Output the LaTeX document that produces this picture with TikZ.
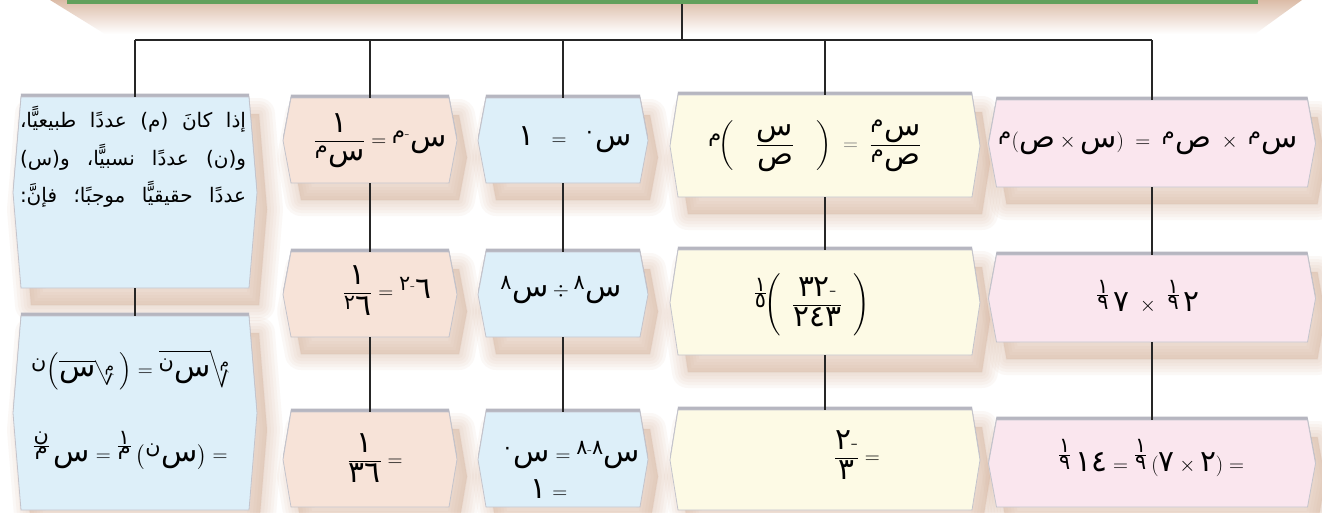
\documentclass[tikz,border=0pt]{standalone}
\usepackage{amsmath}
\usepackage{graphicx}
\usepackage{fontspec}
\TeXXeTstate=1
\newfontfamily\arfont[Script=Arabic,Scale=1.35]{DejaVu Sans}
\newfontfamily\arpara[Script=Arabic]{DejaVu Sans}
\newcommand\Ar[1]{\text{\arfont #1}}
\newcommand\efrac[2]{\frac{\scriptstyle #1}{\scriptstyle #2}}
\newcommand\rsqrt[2]{\reflectbox{$\displaystyle\sqrt[\reflectbox{$\scriptscriptstyle #1$}]{\reflectbox{$\displaystyle #2$}}$}}
\definecolor{peach}{RGB}{247,227,216}
\definecolor{sky}{RGB}{221,239,249}
\definecolor{cream}{RGB}{253,250,229}
\definecolor{rose}{RGB}{250,230,238}
\definecolor{shad}{RGB}{214,176,152}
\definecolor{topgrey}{RGB}{182,182,192}
\definecolor{edgegrey}{RGB}{196,196,204}
\definecolor{barg}{RGB}{98,160,92}
\pgfdeclarelayer{bg}
\pgfsetlayers{bg,main}
\def\tipd{8pt}
\newcommand\hexpath[3]{([xshift=#2pt-\tipd, yshift=#3pt]#1.west) -- ([xshift=#2pt, yshift=#3pt]#1.north west) -- ([xshift=#2pt, yshift=#3pt]#1.north east) -- ([xshift=#2pt+\tipd, yshift=#3pt]#1.east) -- ([xshift=#2pt, yshift=#3pt]#1.south east) -- ([xshift=#2pt, yshift=#3pt]#1.south west) -- cycle}
\tikzset{
  boxnode/.style={inner sep=0pt, outer sep=0pt, draw=none, fill=none, shape=rectangle},
  conn/.style={line width=1.5pt, draw=black!85},
  mathtxt/.style={inner sep=0pt, font=\fontsize{22}{26}\selectfont},
  artxt/.style={inner sep=0pt, anchor=base, font=\arpara\fontsize{20}{24}\selectfont},
}
\newcommand\mkbox[6]{%
  \node[boxnode, minimum width=#4pt, minimum height=#5pt] (#1) at (#2,#3) {};
  \begin{pgfonlayer}{bg}
    \foreach \w in {32,26,20,14,8,2}{
      \path[fill=shad, draw=shad, line width=\w pt, opacity=0.08, line join=round] \hexpath{#1}{10}{-17};}
    \path[fill=topgrey] \hexpath{#1}{0}{3.5};
    \path[fill=#6, draw=edgegrey, line width=0.8pt] \hexpath{#1}{0}{0};
  \end{pgfonlayer}}
\begin{document}
\begin{tikzpicture}[x=1pt,y=-1pt]
\useasboundingbox (0,0) rectangle (1322,512);
\begin{pgfonlayer}{bg}
\fill[white] (0,0) rectangle (1322,512);
\end{pgfonlayer}
\clip (0,0) rectangle (1322,512);
% title bar
\begin{pgfonlayer}{bg}
\shade[top color=shad!85, bottom color=white] (50,0) -- (1302,0) -- (1255,34) -- (105,34) -- cycle;
\end{pgfonlayer}
\node[boxnode, fill=barg, minimum width=1191pt, minimum height=44pt] (title) at (662.5,-18) {};
\coordinate (hub) at (682,40);
% boxes
\mkbox{l1}{135}{192.5}{228}{191}{sky}
\mkbox{l2}{135}{413}{228}{194}{sky}
\mkbox{p1}{370}{140.5}{158}{85}{peach}
\mkbox{p2}{370}{294.5}{158}{85}{peach}
\mkbox{p3}{370}{459.5}{158}{95}{peach}
\mkbox{b1}{563}{140.5}{154}{85}{sky}
\mkbox{b2}{563}{294.5}{154}{85}{sky}
\mkbox{b3}{563}{459.5}{154}{95}{sky}
\mkbox{y1}{825}{146}{294}{102}{cream}
\mkbox{y2}{825}{302.5}{294}{105}{cream}
\mkbox{y3}{825}{460}{294}{100}{cream}
\mkbox{k1}{1152}{143.5}{311}{87}{rose}
\mkbox{k2}{1152}{298.5}{311}{87}{rose}
\mkbox{k3}{1152}{463.5}{311}{87}{rose}
% connectors
\draw[conn] (title.south -| hub) -- (hub);
\draw[conn] (hub -| l1.north) -- (hub -| k1.north);
\foreach \n in {l1,p1,b1,y1,k1}{\draw[conn] (hub -| \n.north) -- (\n.north);}
\draw[conn] (l1.south) -- (l2.north);
\draw[conn] (p1.south) -- (p2.north);
\draw[conn] (p2.south) -- (p3.north);
\draw[conn] (b1.south) -- (b2.north);
\draw[conn] (b2.south) -- (b3.north);
\draw[conn] (y1.south) -- (y2.north);
\draw[conn] (y2.south) -- (y3.north);
\draw[conn] (k1.south) -- (k2.north);
\draw[conn] (k2.south) -- (k3.north);
% left text
\node[artxt] (l1a) at (133,127) {\hbox to 226pt{\beginR إذا\hfill كانَ\hfill (م)\hfill عددًا\hfill طبيعيًّا،\endR}};
\node[artxt] (l1b) at (133,165) {\hbox to 226pt{\beginR و(ن)\hfill عددًا\hfill نسبيًّا،\hfill و(س)\endR}};
\node[artxt] (l1c) at (133,202) {\hbox to 226pt{\beginR عددًا\hfill حقيقيًّا\hfill موجبًا؛\hfill فإنَّ:\endR}};
\node[mathtxt] (l2a) at (133,370) {$\displaystyle {}^{\Ar{ن}}\!\left(\rsqrt{\Ar{م}}{\Ar{س}}\right) = \rsqrt{\Ar{م}}{{}^{\Ar{ن}}\Ar{س}}$};
\node[mathtxt] (l2b) at (130,450) {$\displaystyle {}^{\efrac{\Ar{ن}}{\Ar{م}}}\,\Ar{س} = {}^{\efrac{\Ar{١}}{\Ar{م}}}\,\bigl({}^{\Ar{ن}}\Ar{س}\bigr) =$};
% peach
\node[mathtxt] (p1t) at (380,141) {$\displaystyle\frac{\Ar{١}}{{}^{\Ar{م}}\Ar{س}} = {}^{\Ar{م}\text{-}}\Ar{س}$};
\node[mathtxt] (p2t) at (387,291) {$\displaystyle\frac{\Ar{١}}{{}^{\Ar{٢}}\Ar{٦}} = {}^{\Ar{٢}\text{-}}\Ar{٦}$};
\node[mathtxt] (p3t) at (375,458) {$\displaystyle\frac{\Ar{١}}{\Ar{٣٦}} =$};
% blue
\node[mathtxt] (b1t) at (575,140) {$\Ar{١}\;\;=\;\;{}^{\Ar{٠}}\Ar{س}$};
\node[mathtxt] (b2t) at (561,290) {${}^{\Ar{٨}}\Ar{س}\div{}^{\Ar{٨}}\Ar{س}$};
\node[mathtxt] (b3a) at (571,455) {${}^{\Ar{٠}}\Ar{س} = {}^{\Ar{٨}\text{-}\Ar{٨}}\Ar{س}$};
\node[mathtxt] (b3b) at (549,489) {$\Ar{١}=$};
% cream
\node[mathtxt] (y1t) at (815,146) {$\displaystyle {}^{\Ar{م}}\!\!\left(\quad\frac{\Ar{س}}{\Ar{ص}}\quad\right) \;\mathrel{\color{black!55}=}\; \frac{{}^{\Ar{م}}\Ar{س}}{{}^{\Ar{م}}\Ar{ص}}$};
\node[mathtxt] (y2t) at (812,305) {$\displaystyle {}^{\efrac{\Ar{١}}{\Ar{٥}}}\!\!\left(\;\;\frac{\Ar{٣٢}\text{-}}{\Ar{٢٤٣}}\;\;\right)$};
\node[mathtxt] (y3t) at (857,455) {$\displaystyle\frac{\Ar{٢}\text{-}}{\Ar{٣}} =$};
% rose
\node[mathtxt] (k1t) at (1148,143) {${}^{\Ar{م}}(\Ar{ص}\times\Ar{س}) \;=\; {}^{\Ar{م}}\Ar{ص}\;\times\;{}^{\Ar{م}}\Ar{س}$};
\node[mathtxt] (k2t) at (1148,297) {${}^{\efrac{\Ar{١}}{\Ar{٩}}}\,\Ar{٧}\;\times\;{}^{\efrac{\Ar{١}}{\Ar{٩}}}\,\Ar{٢}$};
\node[mathtxt] (k3t) at (1151,458) {${}^{\efrac{\Ar{١}}{\Ar{٩}}}\,\Ar{١٤} = {}^{\efrac{\Ar{١}}{\Ar{٩}}}\,(\Ar{٧}\times\Ar{٢}) =$};
\end{tikzpicture}
\end{document}
